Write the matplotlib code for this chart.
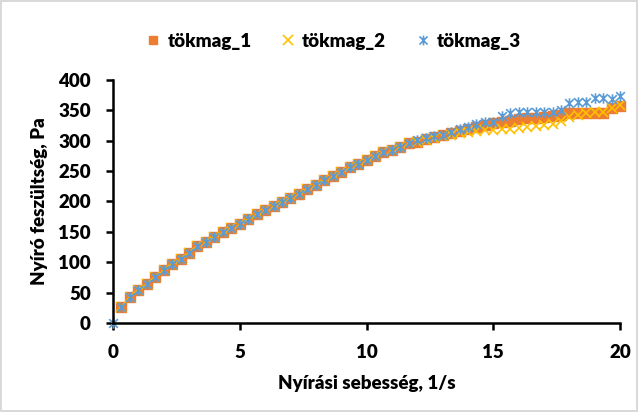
import numpy as np
import matplotlib
matplotlib.use("Agg")
import matplotlib.pyplot as plt
from matplotlib.lines import Line2D
from matplotlib.path import Path

plt.rcParams['font.family'] = ['Lato', 'DejaVu Sans']
plt.rcParams['font.weight'] = 'bold'

# shear rate, steps of 1/3 s from 0 to 20
shear_rate = np.arange(61) / 3.0

# common rising part (all three overlap here)
common = [26, 42, 54, 65, 75, 87, 97, 106, 116, 126, 134, 142, 150, 156,
          163, 171, 179, 186, 192, 199, 206, 213, 220, 227, 235, 242, 249,
          256, 261, 268, 275, 281, 285, 290, 296]

tail_1 = [298, 302, 306, 309, 313, 316, 320, 323, 326, 329, 331, 333, 335,
          337, 338, 339, 340, 342, 345, 345, 345, 345, 345, 353, 357]
tail_2 = [298, 301, 304, 307, 310, 312, 315, 316, 318, 318, 319, 320, 321,
          322, 324, 326, 328, 332, 339, 343, 345, 348, 348, 353, 359]
tail_3 = [301, 304, 307, 310, 315, 319, 322, 327, 330, 331, 340, 346, 348,
          348, 348, 348, 348, 350, 362, 364, 364, 370, 370, 368, 374]

# only the third series shows a point at the origin
stress_1 = [np.nan] + common + tail_1
stress_2 = [np.nan] + common + tail_2
stress_3 = [0] + common + tail_3

labels = ['tökmag_1', 'tökmag_2', 'tökmag_3']
colors = ['#ED7D31', '#FFC000', '#5B9BD5']

# excel-like star: an x with a vertical stroke
star = Path([(-1, -1), (1, 1), (-1, 1), (1, -1), (0, -1.2), (0, 1.2)],
            [Path.MOVETO, Path.LINETO, Path.MOVETO, Path.LINETO,
             Path.MOVETO, Path.LINETO])

FS = 13.5

fig = plt.figure(figsize=(6.38, 4.12), dpi=100)
fig.patch.set_edgecolor('#D9D9D9')
fig.patch.set_linewidth(1.5)
ax = fig.add_axes([0.177, 0.216, 0.795, 0.590])

ax.plot(shear_rate, stress_1, linestyle='none', marker='s', ms=6.5,
        color=colors[0], mec=colors[0], label=labels[0], clip_on=False)
ax.plot(shear_rate, stress_2, linestyle='none', marker='x', ms=7, mew=1.2,
        color=colors[1], label=labels[1], clip_on=False)
ax.plot(shear_rate, stress_3, linestyle='none', marker=star, ms=7.5, mew=1.2,
        color=colors[2], label=labels[2], clip_on=False)

ax.set_xlim(0, 20)
ax.set_ylim(0, 400)
ax.set_xticks([0, 5, 10, 15, 20])
ax.set_yticks(range(0, 401, 50))
for s in ['top', 'right']:
    ax.spines[s].set_visible(False)
for s in ['left', 'bottom']:
    ax.spines[s].set_linewidth(1.8)
    ax.spines[s].set_color('black')
ax.tick_params(axis='both', direction='out', length=5, width=1.8, labelsize=FS)
ax.tick_params(axis='x', pad=10)
ax.tick_params(axis='y', pad=11)
for t in ax.get_xticklabels() + ax.get_yticklabels():
    t.set_fontweight('heavy')

ax.set_xlabel('Nyírási sebesség, 1/s', fontsize=FS, fontweight='heavy', labelpad=10)
ax.set_ylabel('Nyíró feszültség, Pa', fontsize=FS, fontweight='heavy', labelpad=7)

handles = [
    Line2D([], [], linestyle='none', marker='s', ms=6, color=colors[0]),
    Line2D([], [], linestyle='none', marker='x', ms=7, mew=1.2, color=colors[1]),
    Line2D([], [], linestyle='none', marker=star, ms=7, mew=1.2, color=colors[2]),
]
fig.legend(handles, labels, loc='center', bbox_to_anchor=(0.522, 0.9), ncol=3,
           frameon=False, prop={'size': FS, 'weight': 'heavy'},
           handletextpad=0.3, columnspacing=1.5, handlelength=0.9)

fig.savefig('out.png', dpi=100)
